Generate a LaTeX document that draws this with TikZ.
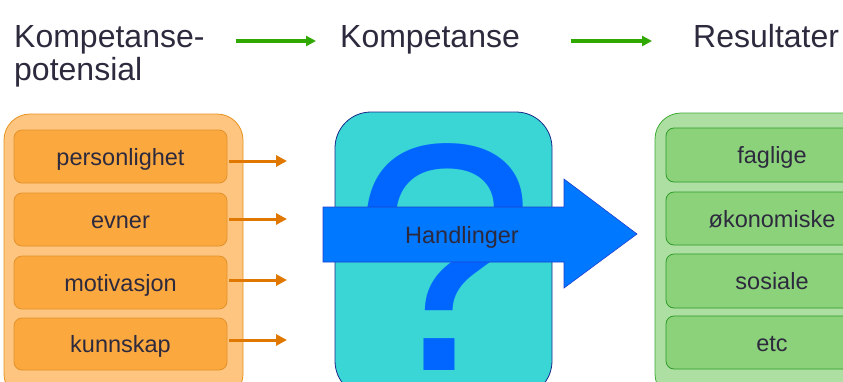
\documentclass[tikz,border=0pt]{standalone}
\usepackage{fontspec}
\setmainfont{Liberation Sans}
\usetikzlibrary{arrows.meta}
\definecolor{txt}{HTML}{2D2A3E}
\definecolor{orOut}{HTML}{FDC57F}
\definecolor{orOutB}{HTML}{E8921E}
\definecolor{orIn}{HTML}{FBA83F}
\definecolor{orInB}{HTML}{E3922A}
\definecolor{orArr}{HTML}{E07800}
\definecolor{cyanBox}{HTML}{3AD5D5}
\definecolor{cyanB}{HTML}{1A2A8A}
\definecolor{qBlue}{HTML}{0066FF}
\definecolor{arrBlue}{HTML}{0078FF}
\definecolor{arrBlueB}{HTML}{2040D0}
\definecolor{grOut}{HTML}{AEDFA2}
\definecolor{grOutB}{HTML}{3DAA35}
\definecolor{grIn}{HTML}{8CD27A}
\definecolor{grInB}{HTML}{2E9A2A}
\definecolor{grArr}{HTML}{2FA800}
\tikzset{
  title/.style={anchor=base west, inner sep=0pt, text=txt, font=\fontsize{32}{33}\selectfont},
  lbl/.style={text=txt, font=\fontsize{23.5}{24}\selectfont},
  orbox/.style={draw=orInB, fill=orIn, line width=0.8pt, rounded corners=8pt},
  grbox/.style={draw=grInB, fill=grIn, line width=0.8pt, rounded corners=8pt},
  boxlbl/.style={lbl, anchor=base, inner sep=0pt},
  orarrow/.style={draw=orArr, line width=3pt, -{Triangle[length=11pt,width=11pt]}},
  grarrow/.style={draw=grArr, line width=3.2pt, -{Triangle[length=10pt,width=10pt]}},
}
\begin{document}
\begin{tikzpicture}[x=1pt,y=-1pt]
\useasboundingbox (0,0) rectangle (843,381);
\clip (0,0) rectangle (843,381);
% titles
\node[title] (t1) at (14,47) {Kompetanse-};
\node[title] (t1b) at (14,80) {potensial};
\node[title] (t2) at (340,47) {Kompetanse};
\node[title] (t3) at (693,47) {Resultater};
\coordinate (g1s) at (236,41); \coordinate (g1e) at (316,41);
\coordinate (g2s) at (571,41); \coordinate (g2e) at (652,41);
\draw[grarrow] (g1s) -- (g1e);
\draw[grarrow] (g2s) -- (g2e);
% left column
\draw[draw=orOutB, fill=orOut, line width=0.8pt, rounded corners=26pt] (4,114) rectangle (243,400);
\node[orbox, minimum width=213pt, minimum height=53pt] (p1) at (120.5,156.5) {};
\node[orbox, minimum width=213pt, minimum height=53pt] (p2) at (120.5,219.5) {};
\node[orbox, minimum width=213pt, minimum height=53pt] (p3) at (120.5,282.5) {};
\node[orbox, minimum width=213pt, minimum height=52pt] (p4) at (120.5,344) {};
\node[boxlbl] (l1) at (120.5,165) {personlighet};
\node[boxlbl] (l2) at (120.5,228) {evner};
\node[boxlbl] (l3) at (120.5,291) {motivasjon};
\node[boxlbl] (l4) at (120.5,352.5) {kunnskap};
\coordinate (a1) at (287,161);
\coordinate (a2) at (287,219);
\coordinate (a3) at (287,280);
\coordinate (a4) at (287,340);
\draw[orarrow] (p1.east |- a1) ++(2,0) -- (a1);
\draw[orarrow] (p2.east |- a2) ++(2,0) -- (a2);
\draw[orarrow] (p3.east |- a3) ++(2,0) -- (a3);
\draw[orarrow] (p4.east |- a4) ++(2,0) -- (a4);
% middle
\draw[draw=cyanB, fill=cyanBox, line width=0.8pt, rounded corners=36pt] (335,112) rectangle (552,397);
\node[anchor=base, inner sep=0pt, text=qBlue, font=\fontsize{325}{325}\selectfont] (q) at (445,370) {?};
\draw[draw=arrBlueB, fill=arrBlue, line width=0.6pt] (323,207) -- (564,207) -- (564,179) -- (637,234) -- (564,288) -- (564,262) -- (323,262) -- cycle;
\node[boxlbl] (h) at (462,243) {Handlinger};
% right column
\draw[draw=grOutB, fill=grOut, line width=0.8pt, rounded corners=26pt] (655,113) rectangle (892,400);
\node[grbox, minimum width=212pt, minimum height=54pt] (r1) at (772,155) {};
\node[grbox, minimum width=212pt, minimum height=53pt] (r2) at (772,218.5) {};
\node[grbox, minimum width=212pt, minimum height=54pt] (r3) at (772,281) {};
\node[grbox, minimum width=212pt, minimum height=53pt] (r4) at (772,342.5) {};
\node[boxlbl] (m1) at (772,163.5) {faglige};
\node[boxlbl] (m2) at (772,227) {økonomiske};
\node[boxlbl] (m3) at (772,289.5) {sosiale};
\node[boxlbl] (m4) at (772,351) {etc};
\end{tikzpicture}
\end{document}
